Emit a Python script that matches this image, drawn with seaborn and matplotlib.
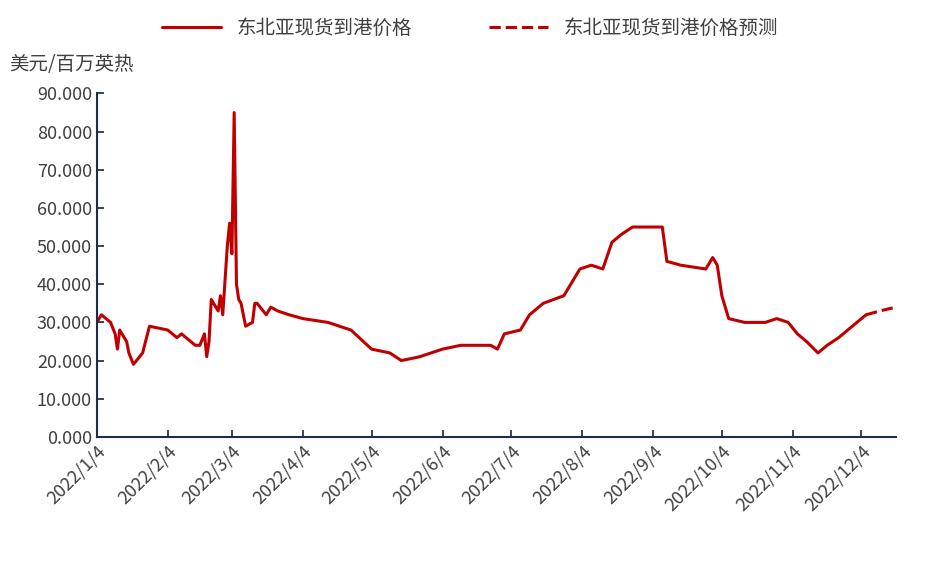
import matplotlib
matplotlib.use("Agg")
import matplotlib.pyplot as plt
import seaborn as sns
import pandas as pd
from matplotlib.ticker import FormatStrFormatter

sns.set_theme(style="white")
plt.rcParams['font.family'] = ['Noto Sans CJK SC', 'DejaVu Sans']

actual_dates = ["2022-01-04","2022-01-06","2022-01-10","2022-01-12","2022-01-13","2022-01-14","2022-01-17","2022-01-18","2022-01-20","2022-01-24","2022-01-27","2022-02-04","2022-02-08","2022-02-10","2022-02-14","2022-02-16","2022-02-18","2022-02-20","2022-02-21","2022-02-22","2022-02-23","2022-02-26","2022-02-27","2022-02-28","2022-03-02","2022-03-03","2022-03-04","2022-03-05","2022-03-06","2022-03-07","2022-03-08","2022-03-10","2022-03-13","2022-03-14","2022-03-15","2022-03-19","2022-03-21","2022-03-24","2022-03-29","2022-04-04","2022-04-15","2022-04-25","2022-05-04","2022-05-12","2022-05-17","2022-05-25","2022-05-30","2022-06-04","2022-06-12","2022-06-18","2022-06-25","2022-06-28","2022-07-01","2022-07-08","2022-07-12","2022-07-18","2022-07-27","2022-08-03","2022-08-08","2022-08-13","2022-08-17","2022-08-21","2022-08-26","2022-09-08","2022-09-10","2022-09-16","2022-09-27","2022-09-30","2022-10-02","2022-10-04","2022-10-07","2022-10-14","2022-10-23","2022-10-28","2022-11-02","2022-11-06","2022-11-10","2022-11-15","2022-11-19","2022-11-24","2022-11-28","2022-12-02","2022-12-06"]
actual_values = [30,32,30,27,23,28,25,22,19,22,29,28,26,27,25,24,24,27,21,25,36,33,37,32,50,56,48,85,40,36,35,29,30,35,35,32,34,33,32,31,30,28,23,22,20,21,22,23,24,24,24,23,27,28,32,35,37,44,45,44,51,53,55,55,46,45,44,47,45,37,31,30,30,31,30,27,25,22,24,26,28,30,32]
forecast_dates = ["2022-12-06","2022-12-12","2022-12-19"]
forecast_values = [32,33,34]

tick_labels = ["2022/1/4","2022/2/4","2022/3/4","2022/4/4","2022/5/4","2022/6/4","2022/7/4","2022/8/4","2022/9/4","2022/10/4","2022/11/4","2022/12/4"]

df_a = pd.DataFrame({"date": pd.to_datetime(actual_dates), "v": actual_values})
df_f = pd.DataFrame({"date": pd.to_datetime(forecast_dates), "v": forecast_values})

fig = plt.figure(figsize=(9.4, 5.63), dpi=100)
ax = fig.add_axes([0.103, 0.224, 0.85, 0.61])
red = "#C00000"
sns.lineplot(data=df_a, x="date", y="v", ax=ax, color=red, lw=2.2, label="东北亚现货到港价格", legend=False)
sns.lineplot(data=df_f, x="date", y="v", ax=ax, color=red, lw=2.2, linestyle="--", label="东北亚现货到港价格预测", legend=False)

ax.set_ylim(0, 90)
ax.set_yticks(range(0, 91, 10))
ax.yaxis.set_major_formatter(FormatStrFormatter('%.3f'))
ax.set_xlim(pd.Timestamp("2022-01-04"), pd.Timestamp("2022-12-19"))
tks = pd.to_datetime([t.replace("/", "-") for t in tick_labels])
ax.set_xticks(tks)
ax.set_xticklabels(tick_labels, rotation=45, ha="right", rotation_mode="anchor", fontsize=13, color="#404040")
ax.tick_params(axis='y', labelsize=13, labelcolor="#404040")
ax.tick_params(axis='x', direction='in', length=5, color="#1F2D4D", bottom=True)
ax.tick_params(axis='y', direction='in', length=5, color="#1F2D4D", left=True)
ax.set_xlabel(""); ax.set_ylabel("")
for s in ["top", "right"]:
    ax.spines[s].set_visible(False)
for s in ["left", "bottom"]:
    ax.spines[s].set_color("#1F2D4D"); ax.spines[s].set_linewidth(1.5)

fig.text(0.01, 0.875, "美元/百万英热", fontsize=14, color="#404040")
h, l = ax.get_legend_handles_labels()
fig.legend(h, l, loc="upper center", bbox_to_anchor=(0.5, 1.0), ncol=2, frameon=False, fontsize=14,
           handlelength=3, columnspacing=4, labelcolor="#404040")
fig.savefig("out.png", dpi=100)
